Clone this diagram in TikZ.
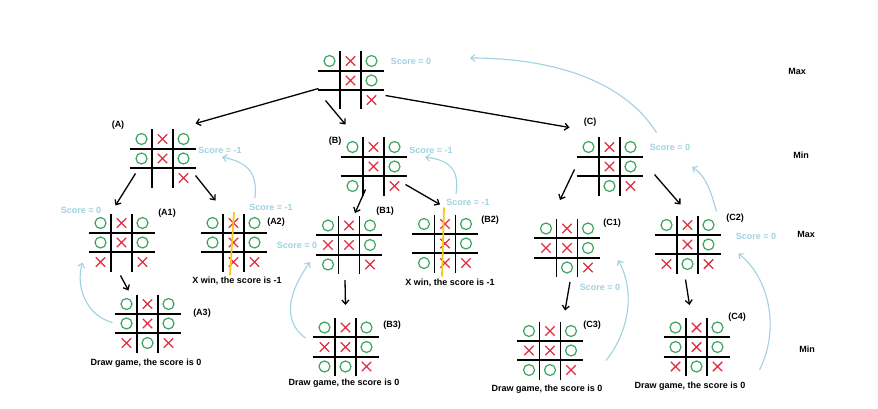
\documentclass[tikz,border=0pt]{standalone}
\usepackage{fontspec}
\setmainfont{Liberation Sans}
\usetikzlibrary{arrows.meta,shapes.misc,calc}

\definecolor{boardgreen}{RGB}{60,165,95}
\definecolor{boardred}{RGB}{225,45,65}
\definecolor{scoreblue}{RGB}{160,210,225}
\definecolor{gold}{RGB}{250,200,20}

\tikzset{
  boardbox/.style={rectangle, minimum width=66pt, minimum height=60pt, inner sep=0pt},
  gridline/.style={line width=1.8pt, black},
  markO/.style={circle, draw=boardgreen, line width=1.2pt, minimum size=11pt, inner sep=0pt},
  markX/.style={cross out, draw=boardred, line width=1.4pt, minimum size=8pt, inner sep=0pt},
  markE/.style={inner sep=0pt},
  tag/.style={font=\fontsize{9}{10}\selectfont\bfseries},
  score/.style={font=\fontsize{9}{10}\selectfont\bfseries, text=scoreblue},
  move/.style={line width=1.3pt, -{Straight Barb[length=4pt,width=7pt]}},
  back/.style={draw=scoreblue, line width=1.1pt, -{Straight Barb[length=4pt,width=7pt]}},
  winline/.style={draw=gold, line width=1.8pt},
}

% one board: name, centre, nine cells row by row (O, X or E)
\newcommand{\board}[3]{%
  \node[boardbox] (#1) at (#2) {};
  \foreach \gl in {-10.5,10.5} {
    \draw[gridline] ($(#1)+(\gl,-29)$) -- ($(#1)+(\gl,29)$);
  }
  \foreach \gl in {-9.75,9.75} {
    \draw[gridline] ($(#1)+(-33,\gl)$) -- ($(#1)+(33,\gl)$);
  }
  \foreach \m [count=\k from 0] in {#3} {
    \pgfmathsetmacro\cx{(mod(\k,3)-1)*21}
    \pgfmathsetmacro\cy{(int(\k/3)-1)*19.5}
    \node[mark\m] at ($(#1)+(\cx,\cy)$) {};
  }
}

\begin{document}
\begin{tikzpicture}[x=1pt, y=-1pt]
  \useasboundingbox (0,0) rectangle (878,409);
  \fill[white] (0,0) rectangle (878,409);

  \board{root}{350.5,80.5}{O,X,O,E,X,O,E,E,X}
  \board{A}{162.5,158.5}{O,X,O,O,X,O,E,E,X}
  \board{B}{373.5,166.5}{O,X,O,E,X,O,O,E,X}
  \board{C}{609.5,166.5}{O,X,O,E,X,O,E,O,X}
  \board{A1}{121.5,242.5}{O,X,O,O,X,O,X,E,X}
  \board{A2}{233.5,242.5}{O,X,O,O,X,O,E,X,X}
  \board{B1}{349,245}{O,X,O,X,X,O,O,E,X}
  \board{B2}{445,243.5}{O,X,O,E,X,O,O,X,X}
  \board{C1}{567,248}{O,X,O,X,X,O,E,O,X}
  \board{C2}{687.5,244.5}{O,X,O,E,X,O,X,O,X}
  \board{A3}{147.5,323.5}{O,X,O,O,X,O,X,O,X}
  \board{B3}{345.5,347}{O,X,O,X,X,O,O,O,X}
  \board{C3}{550,350.5}{O,X,O,X,X,O,O,O,X}
  \board{C4}{696.5,347}{O,X,O,O,X,O,X,O,X}

  % winning column
  \draw[winline] ($(A2)+(0.5,-30.5)$) -- ($(A2)+(-3.5,32.5)$);
  \draw[winline] ($(B2)+(-1,-36)$) -- ($(B2)+(-3,33)$);

  % board names
  \node[tag] (tA) at (118,125) {(A)};
  \node[tag] (tB) at (335,141) {(B)};
  \node[tag] (tC) at (590,122) {(C)};
  \node[tag] (tA1) at (167,213) {(A1)};
  \node[tag] (tA2) at (276,222) {(A2)};
  \node[tag] (tB1) at (385,211) {(B1)};
  \node[tag] (tB2) at (490,220) {(B2)};
  \node[tag] (tC1) at (612,223) {(C1)};
  \node[tag] (tC2) at (735,218) {(C2)};
  \node[tag] (tA3) at (202,313) {(A3)};
  \node[tag] (tB3) at (392,325) {(B3)};
  \node[tag] (tC3) at (592,325) {(C3)};
  \node[tag] (tC4) at (737,317) {(C4)};

  % levels
  \node[tag] (lv1) at (797,71) {Max};
  \node[tag] (lv2) at (801,155) {Min};
  \node[tag] (lv3) at (806,234) {Max};
  \node[tag] (lv4) at (807,349) {Min};

  % end states
  \node[tag] (rA2) at (237,281) {X win, the score is -1};
  \node[tag] (rB2) at (450,283) {X win, the score is -1};
  \node[tag] (rA3) at (146,363) {Draw game, the score is 0};
  \node[tag] (rB3) at (344,383) {Draw game, the score is 0};
  \node[tag] (rC3) at (547,389) {Draw game, the score is 0};
  \node[tag] (rC4) at (690,386) {Draw game, the score is 0};

  % scores
  \node[score] (sroot) at (411,61) {Score = 0};
  \node[score] (sA) at (220,150) {Score = -1};
  \node[score] (sB) at (431,150) {Score = -1};
  \node[score] (sC) at (670,147) {Score = 0};
  \node[score] (sA1) at (81,210) {Score = 0};
  \node[score] (sA2) at (271,207) {Score = -1};
  \node[score] (sB1) at (297,245) {Score = 0};
  \node[score] (sB2) at (468,202) {Score = -1};
  \node[score] (sC1) at (600,287) {Score = 0};
  \node[score] (sC2) at (756,236) {Score = 0};

  % moves
  \draw[move] ($(root)+(-32,8)$) -- ($(A)+(33,-35)$);
  \draw[move] ($(root)+(-25,20)$) -- ($(B)+(-28,-42)$);
  \draw[move] ($(root)+(35,15)$) -- ($(C)+(-40,-39)$);
  \draw[move] ($(A)+(-27,15)$) -- ($(A1)+(-6,-37)$);
  \draw[move] ($(A)+(33,17)$) -- ($(A2)+(-18,-42)$);
  \draw[move] ($(B)+(-8,23)$) -- ($(B1)+(6,-32)$);
  \draw[move] ($(B)+(32,18)$) -- ($(B2)+(-5,-39)$);
  \draw[move] ($(C)+(-35,3)$) -- ($(C1)+(-7,-48)$);
  \draw[move] ($(C)+(45,8)$) -- ($(C2)+(-7,-40)$);
  \draw[move] ($(A1)+(-1,33)$) -- ($(A3)+(-19,-33)$);
  \draw[move] ($(B1)+(-4,35)$) -- ($(B3)+(0,-42)$);
  \draw[move] ($(C1)+(3,34)$) -- ($(C3)+(15,-40)$);
  \draw[move] ($(C2)+(-2,35)$) -- ($(C4)+(-7,-42)$);

  % scores passed back up
  \draw[back] ($(sA2)+(-16,-9)$) .. controls +(3,-28) and +(23,5) .. ($(sA)+(2,7)$);
  \draw[back] ($(sB2)+(-12,-8)$) .. controls +(4,-26) and +(23,3) .. ($(sB)+(-6,7)$);
  \draw[back] ($(C)+(47,-34)$) .. controls +(-37,-58) and +(70,0) .. ($(sroot)+(59,-3)$);
  \draw[back] ($(C2)+(29,-33)$) .. controls +(-6,-22) and +(13,8) .. ($(sC)+(22,20)$);
  \draw[back] ($(A3)+(-35,-1)$) .. controls +(-27,-7) and +(-7,23) .. ($(A1)+(-39,20)$);
  \draw[back] ($(B3)+(-40,-9)$) .. controls +(-25,-18) and +(-20,28) .. ($(sB1)+(13,17)$);
  \draw[back] ($(C3)+(56,10)$) .. controls +(24,-30) and +(17,30) .. ($(C1)+(51,12)$);
  \draw[back] ($(C4)+(63,23)$) .. controls +(20,-40) and +(32,26) .. ($(C2)+(51,9)$);
\end{tikzpicture}
\end{document}
